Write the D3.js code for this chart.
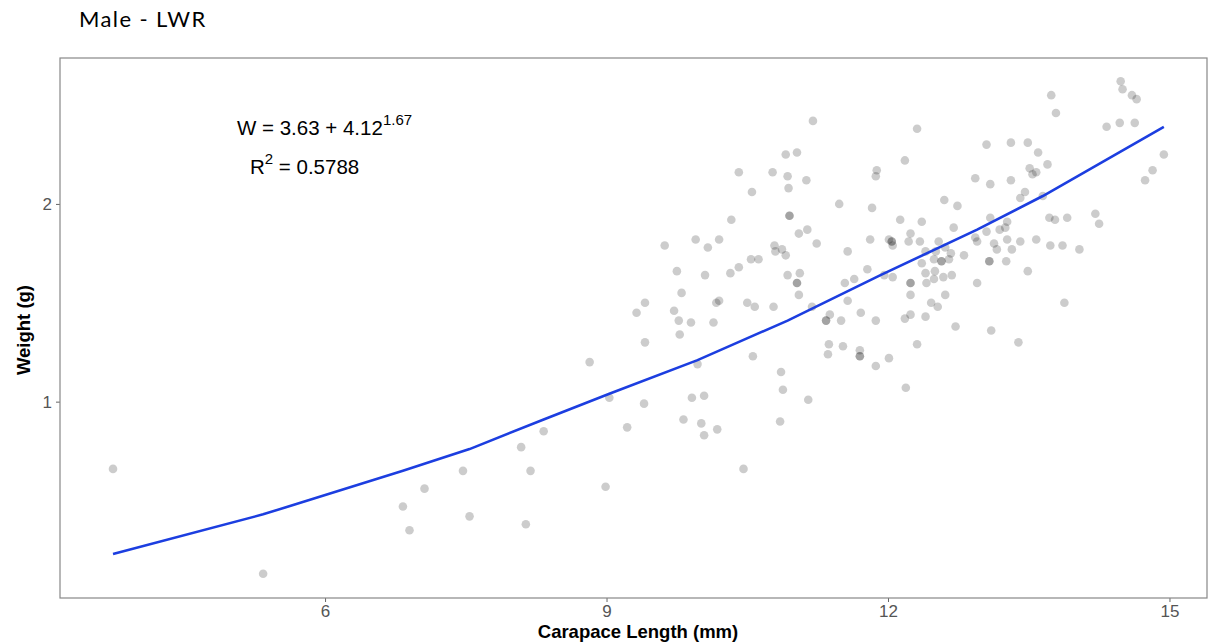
<!DOCTYPE html>
<html>
<head>
<meta charset="utf-8">
<script src="https://cdn.jsdelivr.net/npm/d3@7"></script>
<style>
  body { margin: 0; background: white; }
  .axisLabel { font-family: "Liberation Sans", Arial, sans-serif; font-weight: bold; font-size: 18.5px; fill: black; }
  .tick text { font-family: "Liberation Sans", Arial, sans-serif; font-size: 17px; fill: #555; }
  .eq { font-family: "Liberation Sans", Arial, sans-serif; font-size: 20.5px; fill: black; }
</style>
</head>
<body>
<div id="chart"></div>
<script>
// carapace length (mm) and weight (g)
const carapaceLength = [
  3.74, 5.34, 6.83, 6.90, 7.06, 7.47, 7.54, 8.09, 8.19, 8.14, 8.33,
  8.82, 8.99, 9.03, 9.22, 9.40, 9.41, 9.32, 9.41, 9.62, 9.72, 9.75, 9.77, 9.78, 9.80,
  9.82, 9.90, 9.91, 9.95, 9.97, 10.01, 10.04, 10.04, 10.05, 10.08, 10.14, 10.17, 10.20,
  10.18, 10.20, 10.32, 10.33, 10.41, 10.41, 10.46, 10.50, 10.54, 10.55, 10.56, 10.58,
  10.62, 10.77, 10.78, 10.79, 10.80, 10.85, 10.86, 10.87, 10.88, 10.91, 10.91, 10.93,
  10.93, 10.94, 10.95, 10.95, 11.03, 11.03, 11.03, 11.05, 11.05, 11.06, 11.13, 11.14,
  11.15, 11.19, 11.20, 11.24, 11.34, 11.34, 11.36, 11.37, 11.38, 11.48, 11.50, 11.52,
  11.54, 11.57, 11.57, 11.64, 11.70, 11.70, 11.70, 11.71, 11.78, 11.81, 11.83, 11.87,
  11.88, 11.87, 11.87, 11.96, 12.01, 12.01, 12.04, 12.04, 12.05, 12.05, 12.13, 12.18,
  12.18, 12.19, 12.22, 12.24, 12.24, 12.24, 12.24, 12.24, 12.31, 12.31, 12.34, 12.36,
  12.36, 12.40, 12.40, 12.40, 12.41, 12.46, 12.49, 12.49, 12.50, 12.51, 12.53, 12.54,
  12.57, 12.57, 12.59, 12.60, 12.61, 12.61, 12.65, 12.67, 12.68, 12.70, 12.72, 12.74,
  12.81, 12.93, 12.93, 12.95, 12.95, 13.05, 13.05, 13.08, 13.08, 13.09, 13.09, 13.10,
  13.13, 13.16, 13.19, 13.25, 13.26, 13.27, 13.27, 13.31, 13.31, 13.32, 13.39, 13.41,
  13.41, 13.46, 13.49, 13.49, 13.51, 13.54, 13.58, 13.58, 13.60, 13.65, 13.70, 13.72,
  13.73, 13.74, 13.78, 13.79, 13.86, 13.88, 13.91, 14.04, 14.21, 14.25, 14.33, 14.47,
  14.48, 14.50, 14.60, 14.63, 14.65, 14.74, 14.82, 14.94
];
const weight = [
  0.66, 0.13, 0.47, 0.35, 0.56, 0.65, 0.42, 0.77, 0.65, 0.38, 0.85,
  1.20, 0.57, 1.02, 0.87, 0.99, 1.30, 1.45, 1.50, 1.79, 1.46, 1.66, 1.41, 1.34, 1.55,
  0.91, 1.40, 1.02, 1.82, 1.19, 0.89, 0.83, 1.03, 1.64, 1.78, 1.40, 1.50, 1.51,
  0.86, 1.82, 1.65, 1.92, 1.68, 2.16, 0.66, 1.50, 1.72, 2.06, 1.23, 1.48,
  1.72, 2.16, 1.48, 1.79, 1.76, 0.90, 1.15, 1.77, 1.06, 2.25, 1.74, 1.64,
  2.14, 2.08, 1.94, 1.94, 1.60, 1.60, 2.26, 1.85, 1.54, 1.65, 2.12, 1.87,
  1.01, 1.48, 2.42, 1.80, 1.41, 1.41, 1.24, 1.29, 1.44, 2.00, 1.41, 1.28,
  1.60, 1.76, 1.51, 1.62, 1.23, 1.23, 1.26, 1.45, 1.67, 1.82, 1.98, 2.14,
  2.17, 1.41, 1.18, 1.64, 1.82, 1.22, 1.81, 1.81, 1.79, 1.63, 1.92, 2.22,
  1.42, 1.07, 1.81, 1.85, 1.60, 1.60, 1.54, 1.44, 2.38, 1.29, 1.81, 1.70,
  1.91, 1.76, 1.65, 1.43, 1.60, 1.50, 1.72, 1.62, 1.66, 1.76, 1.48, 1.81,
  1.71, 1.71, 1.63, 2.02, 1.78, 1.54, 1.72, 1.75, 1.64, 1.88, 1.38, 1.99,
  1.74, 2.13, 1.83, 1.81, 1.60, 1.86, 2.30, 1.71, 1.71, 2.10, 1.93, 1.36,
  1.80, 1.77, 1.87, 1.88, 1.71, 1.91, 1.82, 2.31, 2.12, 1.77, 1.30, 2.03,
  1.81, 2.06, 2.31, 1.66, 2.18, 2.15, 2.16, 1.82, 2.26, 2.04, 2.20, 1.93,
  1.79, 2.55, 1.92, 2.46, 1.79, 1.50, 1.93, 1.77, 1.95, 1.90, 2.39, 2.41,
  2.62, 2.58, 2.55, 2.41, 2.53, 2.12, 2.17, 2.25
];

// fitted curve vertices
const fitLength = [3.74, 5.34, 6.83, 7.54, 8.33, 9.03, 9.97, 10.93, 11.92, 12.95, 13.65, 14.94];
const fitWeight = [0.23, 0.43, 0.65, 0.76, 0.91, 1.04, 1.21, 1.41, 1.64, 1.87, 2.04, 2.39];

const xTicks = [6, 9, 12, 15];
const yTicks = [1, 2];

let margin = {top: 58, left: 60, right: 8, bottom: 46},
    width = 1215 - margin.left - margin.right,
    height = 644 - margin.top - margin.bottom;

let svg = d3.select("#chart")
  .append("svg")
    .attr("width", 1215)
    .attr("height", 644);

svg.append("text")
    .attr("x", 79)
    .attr("y", 27)
    .style("font-family", "Lato, 'Open Sans', sans-serif")
    .style("font-size", "22px")
    .style("letter-spacing", "1.4px")
    .text("Male - LWR");

let g = svg.append("g")
    .attr("transform", "translate(" + margin.left + "," + margin.top + ")");

let xScale = d3.scaleLinear()
    .domain([3.175, 15.40])
    .range([0, width]);

let yScale = d3.scaleLinear()
    .domain([0.007, 2.738])
    .range([height, 0]);

let xAxis = g.append("g")
    .attr("transform", "translate(0," + height + ")")
    .call(d3.axisBottom(xScale).tickValues(xTicks).tickFormat(d3.format("d")).tickSize(4).tickPadding(3));

let yAxis = g.append("g")
    .call(d3.axisLeft(yScale).tickValues(yTicks).tickFormat(d3.format("d")).tickSize(4).tickPadding(4));

[xAxis, yAxis].forEach(a => {
  a.select(".domain").remove();
  a.selectAll(".tick line").attr("stroke", "#666");
});

// points
let pts = carapaceLength.map((d, i) => [d, weight[i]]);
g.append("g")
  .selectAll("circle")
  .data(pts)
  .enter()
  .append("circle")
    .attr("cx", d => xScale(d[0]))
    .attr("cy", d => yScale(d[1]))
    .attr("r", 4.3)
    .attr("fill", "black")
    .attr("fill-opacity", 0.2);

// fitted line
let fit = fitLength.map((d, i) => [d, fitWeight[i]]);
g.append("path")
    .datum(fit)
    .attr("fill", "none")
    .attr("stroke", "#1c3ee0")
    .attr("stroke-width", 2.6)
    .attr("d", d3.line().x(d => xScale(d[0])).y(d => yScale(d[1])));

// panel border
g.append("rect")
    .attr("width", width)
    .attr("height", height)
    .attr("fill", "none")
    .attr("stroke", "#888")
    .attr("stroke-width", 1.2);

// equation labels
let eq = svg.append("text")
    .attr("class", "eq")
    .attr("x", 237)
    .attr("y", 135);
eq.append("tspan").text("W = 3.63 + 4.12");
eq.append("tspan").attr("dy", -10).style("font-size", "15px").text("1.67");

let r2 = svg.append("text")
    .attr("class", "eq")
    .attr("x", 250)
    .attr("y", 174);
r2.append("tspan").text("R");
r2.append("tspan").attr("dy", -10).style("font-size", "15px").text("2");
r2.append("tspan").attr("dy", 10).text(" = 0.5788");

// axis titles
svg.append("text")
    .attr("class", "axisLabel")
    .attr("x", 638)
    .attr("y", 638)
    .attr("text-anchor", "middle")
    .text("Carapace Length (mm)");

svg.append("text")
    .attr("class", "axisLabel")
    .attr("transform", "translate(30,330) rotate(-90)")
    .attr("text-anchor", "middle")
    .text("Weight (g)");
</script>
</body>
</html>
